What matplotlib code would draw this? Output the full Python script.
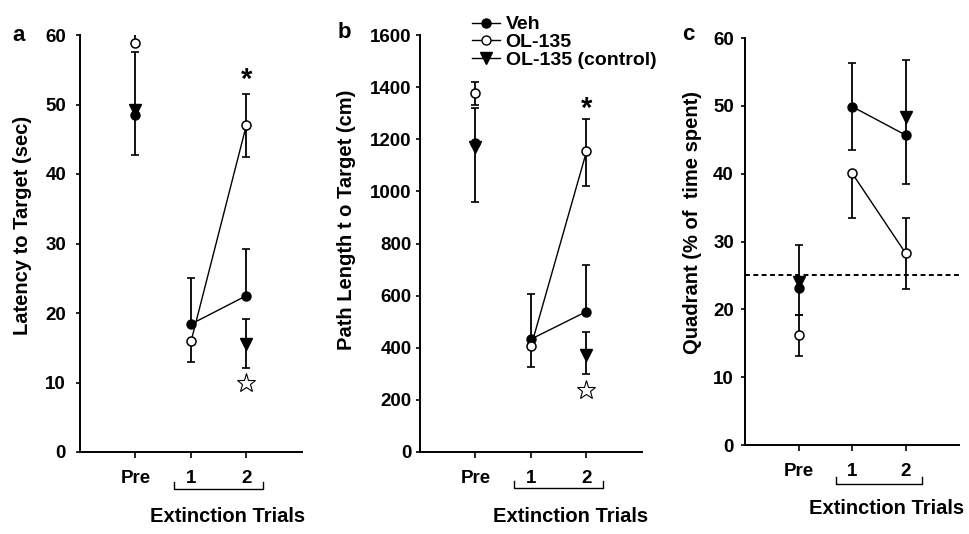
import numpy as np
import matplotlib
matplotlib.use("Agg")
import matplotlib.pyplot as plt
from matplotlib.lines import Line2D
from matplotlib.transforms import blended_transform_factory

plt.rcParams['font.family'] = ['Liberation Sans', 'DejaVu Sans']
plt.rcParams['font.weight'] = 'bold'

nan = np.nan
x_labels = ['Pre', '1', '2']

# panel a: latency to target (sec)
veh_a = [48.5, 18.4, 22.5]
veh_a_lo = [42.8, nan, nan]
veh_a_hi = [57.5, 25.1, 29.2]
ol_a = [58.8, 15.9, 47.1]
ol_a_lo = [nan, 13.0, 42.5]
ol_a_hi = [60.1, nan, 51.5]
ctrl_a = [49.2, nan, 15.5]
ctrl_a_lo = [nan, nan, 12.1]
ctrl_a_hi = [nan, nan, 19.2]
star_a = 9.9
sig_a = 53.5

# panel b: path length to target (cm)
veh_b = [1185, 433, 539]
veh_b_lo = [958, nan, nan]
veh_b_hi = [1319, 606, 716]
ol_b = [1379, 405, 1153]
ol_b_lo = [1330, 328, 1022]
ol_b_hi = [1421, nan, 1278]
ctrl_b = [1170, nan, 373]
ctrl_b_lo = [nan, nan, 299]
ctrl_b_hi = [nan, nan, 460]
star_b = 236
sig_b = 1316

# panel c: quadrant (% of time spent)
veh_c = [23.1, 49.9, 45.7]
veh_c_lo = [19.2, 43.5, 38.5]
veh_c_hi = [29.5, 56.3, 56.7]
ol_c = [16.2, 40.1, 28.3]
ol_c_lo = [13.1, 33.4, 23.0]
ol_c_hi = [19.2, nan, 33.4]
ctrl_c = [24.0, nan, 48.4]
chance_c = 25

W, H = 970, 534
fig = plt.figure(figsize=(W / 100, H / 100), dpi=100)


def add_ax(left, right, top, bottom):
    return fig.add_axes([left / W, 1 - bottom / H, (right - left) / W, (bottom - top) / H])


def err(ax, x, y, lo, hi):
    for xi, yi, l, h in zip(x, y, lo, hi):
        for end in (l, h):
            if np.isnan(end):
                continue
            ax.plot([xi, xi], [yi, end], color='black', lw=1.3, zorder=2, solid_capstyle='butt')
            ax.plot([xi], [end], marker='_', ms=6, mew=1.2, color='black', zorder=2)


def draw(ax, veh, veh_lo, veh_hi, ol, ol_lo, ol_hi, ctrl, ctrl_lo=None, ctrl_hi=None):
    x = np.arange(3)
    err(ax, x, veh, veh_lo, veh_hi)
    err(ax, x, ol, ol_lo, ol_hi)
    if ctrl_lo is not None:
        err(ax, x, ctrl, ctrl_lo, ctrl_hi)
    # only the extinction trials are joined
    ax.plot(x[1:], veh[1:], color='black', lw=1, zorder=3)
    ax.plot(x[1:], ol[1:], color='black', lw=1, zorder=3)
    ax.plot(x, ctrl, ls='none', marker='v', ms=8, color='black', zorder=4)
    ax.plot(x, veh, ls='none', marker='o', ms=6.5, color='black', zorder=5)
    ax.plot(x, ol, ls='none', marker='o', ms=6.5, mfc='white', mec='black', mew=1.1, zorder=6)


def style(ax, ylim, yticks, ypad, ylabel, ylab_xy, letter, letter_xy, brk_y, ext_y, ext_x):
    ax.set_xlim(-1, 3)
    ax.set_ylim(*ylim)
    ax.set_yticks(yticks)
    ax.set_xticks([0, 1, 2])
    ax.set_xticklabels(x_labels)
    for s in ('top', 'right'):
        ax.spines[s].set_visible(False)
    for s in ('left', 'bottom'):
        ax.spines[s].set_linewidth(1.4)
    ax.tick_params(axis='y', length=3, width=1.2, pad=ypad, labelsize=13.5)
    ax.tick_params(axis='x', length=4, width=1.2, pad=9, labelsize=13.5)
    for lab in ax.get_xticklabels() + ax.get_yticklabels():
        lab.set_fontweight('bold')
    fig.text(ylab_xy[0] / W, 1 - ylab_xy[1] / H, ylabel, rotation=90,
             ha='center', va='center', fontsize=14.5, fontweight='bold')
    fig.text(letter_xy[0] / W, 1 - letter_xy[1] / H, letter, ha='center', va='center',
             fontsize=16, fontweight='bold')
    tr = blended_transform_factory(ax.transData, fig.transFigure)
    ax.plot([0.7, 0.7, 2.3, 2.3], [1 - (brk_y - 7) / H, 1 - brk_y / H, 1 - brk_y / H, 1 - (brk_y - 7) / H],
            color='black', lw=1, transform=tr, clip_on=False)
    ax.text(ext_x, 1 - ext_y / H, 'Extinction Trials', transform=tr, ha='center', va='center',
            fontsize=14.5, fontweight='bold')


ax_a = add_ax(80, 302, 35, 452)
draw(ax_a, veh_a, veh_a_lo, veh_a_hi, ol_a, ol_a_lo, ol_a_hi, ctrl_a, ctrl_a_lo, ctrl_a_hi)
ax_a.plot([2], [star_a], marker='*', ms=14, mfc='white', mec='black', mew=0.8, ls='none')
ax_a.text(2, sig_a, '*', ha='center', va='center', fontsize=21, fontweight='bold')
style(ax_a, (0, 60), range(0, 61, 10), 7, 'Latency to Target (sec)', (23, 225),
      'a', (19, 36), 489, 516, 1.65)

ax_b = add_ax(420, 642, 35, 452)
draw(ax_b, veh_b, veh_b_lo, veh_b_hi, ol_b, ol_b_lo, ol_b_hi, ctrl_b, ctrl_b_lo, ctrl_b_hi)
ax_b.plot([2], [star_b], marker='*', ms=14, mfc='white', mec='black', mew=0.8, ls='none')
ax_b.text(2, sig_b, '*', ha='center', va='center', fontsize=21, fontweight='bold')
style(ax_b, (0, 1600), range(0, 1601, 200), 3, 'Path Length t o Target (cm)', (347, 220),
      'b', (344, 33), 488, 516, 1.71)

ax_c = add_ax(745, 959, 38, 445)
ax_c.axhline(chance_c, color='black', lw=1.4, ls=(0, (2.5, 1.8)), zorder=1)
draw(ax_c, veh_c, veh_c_lo, veh_c_hi, ol_c, ol_c_lo, ol_c_hi, ctrl_c)
style(ax_c, (0, 60), range(0, 61, 10), 5, 'Quadrant (% of  time spent)', (693, 222),
      'c', (688, 34), 484, 509, 1.65)

handles = [
    Line2D([], [], color='black', lw=1, marker='o', ms=6.5),
    Line2D([], [], color='black', lw=1, marker='o', ms=6.5, mfc='white'),
    Line2D([], [], color='black', lw=1, marker='v', ms=8),
]
fig.legend(handles, ['Veh', 'OL-135', 'OL-135 (control)'], loc='upper left',
           bbox_to_anchor=(462 / W, 1 - 6 / H), frameon=False, handlelength=1.45,
           handletextpad=0.3, labelspacing=0.0, borderpad=0,
           prop={'size': 14, 'weight': 'bold'})

fig.savefig('out.png', dpi=100)
